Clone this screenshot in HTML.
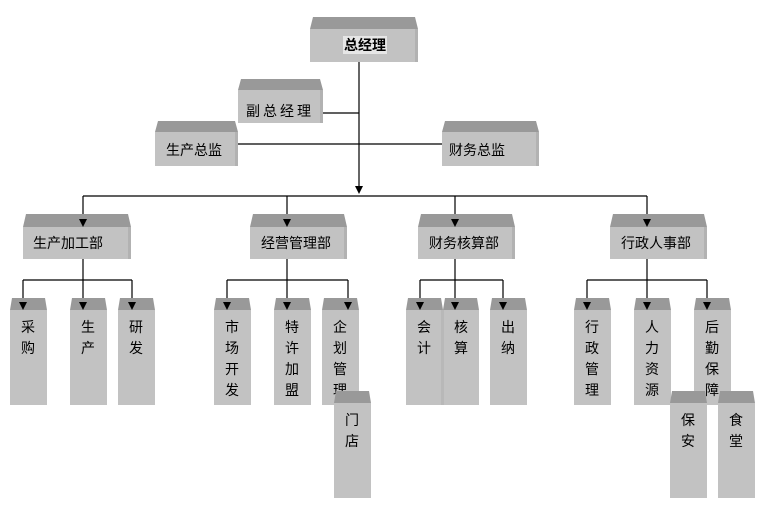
<!DOCTYPE html>
<html><head><meta charset="utf-8"><style>
html,body{margin:0;padding:0;background:#fff}
svg{display:block}
text{font-family:"Liberation Sans","Noto Sans CJK SC","WenQuanYi Zen Hei",sans-serif;font-size:14px;fill:#000}
.t{fill:#999}.b{fill:#c2c2c2}.r{fill:#b2b2b2}
</style></head><body>
<svg width="765" height="505" viewBox="0 0 765 505" xmlns="http://www.w3.org/2000/svg">

<!-- top boxes -->
<g>
<polygon class="t" points="313,17 415,17 418,29 310,29"/><rect class="b" x="310" y="29" width="108" height="33"/><rect class="r" x="415" y="29" width="3" height="33"/>
<polygon class="t" points="241,79 320,79 323,90 238,90"/><rect class="b" x="238" y="90" width="85" height="33"/><rect class="r" x="320" y="90" width="3" height="33"/>
<polygon class="t" points="158,121 235,121 238,132 155,132"/><rect class="b" x="155" y="132" width="83" height="34"/><rect class="r" x="235" y="132" width="3" height="34"/>
<polygon class="t" points="445,121 536,121 539,132 442,132"/><rect class="b" x="442" y="132" width="97" height="34"/><rect class="r" x="536" y="132" width="3" height="34"/>
</g>
<rect x="343" y="36" width="44" height="18" fill="#e6e6e6"/>
<text x="365" y="50" text-anchor="middle" font-weight="bold">总经理</text>
<text x="280" y="116" text-anchor="middle" letter-spacing="3">副总经理</text>
<text x="194" y="155" text-anchor="middle">生产总监</text>
<text x="477" y="155" text-anchor="middle">财务总监</text>

<g stroke="#000" stroke-width="1.2" fill="none">
<line x1="359" y1="62" x2="359" y2="188"/>
<line x1="323" y1="113" x2="359" y2="113"/>
<line x1="238" y1="144" x2="442" y2="144"/>
<line x1="83" y1="196" x2="647" y2="196"/>
<line x1="83" y1="196" x2="83" y2="220"/>
<line x1="287" y1="196" x2="287" y2="220"/>
<line x1="455" y1="196" x2="455" y2="220"/>
<line x1="647" y1="196" x2="647" y2="220"/>
</g>
<path d="M355,186 L363,186 L359,194z" fill="#000"/>

<!-- dept boxes -->
<g>
<polygon class="t" points="26,214 128,214 131,227 23,227"/><rect class="b" x="23" y="227" width="108" height="32"/><rect class="r" x="128" y="227" width="3" height="32"/>
<polygon class="t" points="253,214 344,214 347,227 250,227"/><rect class="b" x="250" y="227" width="97" height="32"/><rect class="r" x="344" y="227" width="3" height="32"/>
<polygon class="t" points="421,214 512,214 515,227 418,227"/><rect class="b" x="418" y="227" width="97" height="32"/><rect class="r" x="512" y="227" width="3" height="32"/>
<polygon class="t" points="613,214 704,214 707,227 610,227"/><rect class="b" x="610" y="227" width="97" height="32"/><rect class="r" x="704" y="227" width="3" height="32"/>
</g>
<text x="68" y="248" text-anchor="middle">生产加工部</text>
<text x="296" y="248" text-anchor="middle">经营管理部</text>
<text x="464" y="248" text-anchor="middle">财务核算部</text>
<text x="656" y="248" text-anchor="middle">行政人事部</text>

<g stroke="#000" stroke-width="1.2" fill="none">
<line x1="83" y1="259" x2="83" y2="280"/><line x1="23" y1="280" x2="132" y2="280"/>
<line x1="23" y1="280" x2="23" y2="304"/><line x1="83" y1="280" x2="83" y2="304"/><line x1="132" y1="280" x2="132" y2="304"/>
<line x1="287" y1="259" x2="287" y2="280"/><line x1="227" y1="280" x2="348" y2="280"/>
<line x1="227" y1="280" x2="227" y2="304"/><line x1="287" y1="280" x2="287" y2="304"/><line x1="348" y1="280" x2="348" y2="304"/>
<line x1="455" y1="259" x2="455" y2="280"/><line x1="420" y1="280" x2="503" y2="280"/>
<line x1="420" y1="280" x2="420" y2="304"/><line x1="455" y1="280" x2="455" y2="304"/><line x1="503" y1="280" x2="503" y2="304"/>
<line x1="647" y1="259" x2="647" y2="280"/><line x1="587" y1="280" x2="707" y2="280"/>
<line x1="587" y1="280" x2="587" y2="304"/><line x1="647" y1="280" x2="647" y2="304"/><line x1="707" y1="280" x2="707" y2="304"/>
</g>

<g>
<polygon class="t" points="12,298 45,298 47,310 10,310"/><rect class="b" x="10" y="310" width="37" height="95"/>
<polygon class="t" points="72,298 105,298 107,310 70,310"/><rect class="b" x="70" y="310" width="37" height="95"/>
<polygon class="t" points="120,298 153,298 155,310 118,310"/><rect class="b" x="118" y="310" width="37" height="95"/>
<polygon class="t" points="216,298 249,298 251,310 214,310"/><rect class="b" x="214" y="310" width="37" height="95"/>
<polygon class="t" points="276,298 309,298 311,310 274,310"/><rect class="b" x="274" y="310" width="37" height="95"/>
<polygon class="t" points="324,298 357,298 359,310 322,310"/><rect class="b" x="322" y="310" width="37" height="95"/>
<polygon class="t" points="408,298 441,298 443,310 406,310"/><rect class="b" x="406" y="310" width="37" height="95"/>
<polygon class="t" points="445,298 477,298 479,310 443,310"/><rect class="b" x="443" y="310" width="36" height="95"/>
<polygon class="t" points="492,298 525,298 527,310 490,310"/><rect class="b" x="490" y="310" width="37" height="95"/>
<polygon class="t" points="576,298 609,298 611,310 574,310"/><rect class="b" x="574" y="310" width="37" height="95"/>
<polygon class="t" points="636,298 669,298 671,310 634,310"/><rect class="b" x="634" y="310" width="37" height="95"/>
<polygon class="t" points="696,298 729,298 731,310 694,310"/><rect class="b" x="694" y="310" width="37" height="95"/>
</g>
<rect x="441" y="310" width="3" height="95" fill="#b8b8b8"/>
<g text-anchor="middle">
<text x="28" y="332">采</text><text x="28" y="353">购</text>
<text x="88" y="332">生</text><text x="88" y="353">产</text>
<text x="136" y="332">研</text><text x="136" y="353">发</text>
<text x="232" y="332">市</text><text x="232" y="353">场</text><text x="232" y="374">开</text><text x="232" y="395">发</text>
<text x="292" y="332">特</text><text x="292" y="353">许</text><text x="292" y="374">加</text><text x="292" y="395">盟</text>
<text x="340" y="332">企</text><text x="340" y="353">划</text><text x="340" y="374">管</text><text x="340" y="395">理</text>
<text x="424" y="332">会</text><text x="424" y="353">计</text>
<text x="461" y="332">核</text><text x="461" y="353">算</text>
<text x="508" y="332">出</text><text x="508" y="353">纳</text>
<text x="592" y="332">行</text><text x="592" y="353">政</text><text x="592" y="374">管</text><text x="592" y="395">理</text>
<text x="652" y="332">人</text><text x="652" y="353">力</text><text x="652" y="374">资</text><text x="652" y="395">源</text>
<text x="712" y="332">后</text><text x="712" y="353">勤</text><text x="712" y="374">保</text><text x="712" y="395">障</text>
</g>

<g fill="#000">
<path d="M19,302 L27,302 L23,310z"/><path d="M79,302 L87,302 L83,310z"/><path d="M128,302 L136,302 L132,310z"/>
<path d="M223,302 L231,302 L227,310z"/><path d="M283,302 L291,302 L287,310z"/><path d="M344,302 L352,302 L348,310z"/>
<path d="M416,302 L424,302 L420,310z"/><path d="M451,302 L459,302 L455,310z"/><path d="M499,302 L507,302 L503,310z"/>
<path d="M583,302 L591,302 L587,310z"/><path d="M643,302 L651,302 L647,310z"/><path d="M703,302 L711,302 L707,310z"/>
<path d="M79,219 L87,219 L83,227z"/><path d="M283,219 L291,219 L287,227z"/><path d="M451,219 L459,219 L455,227z"/><path d="M643,219 L651,219 L647,227z"/>
</g>

<polygon class="t" points="336,391 369,391 371,403 334,403"/><rect class="b" x="334" y="403" width="37" height="95"/>
<polygon class="t" points="672,391 705,391 707,403 670,403"/><rect class="b" x="670" y="403" width="37" height="95"/>
<polygon class="t" points="720,391 753,391 755,403 718,403"/><rect class="b" x="718" y="403" width="37" height="95"/>
<g text-anchor="middle">
<text x="352" y="425">门</text><text x="352" y="446">店</text>
<text x="688" y="425">保</text><text x="688" y="446">安</text>
<text x="736" y="425">食</text><text x="736" y="446">堂</text>
</g>
</svg>
</body></html>
